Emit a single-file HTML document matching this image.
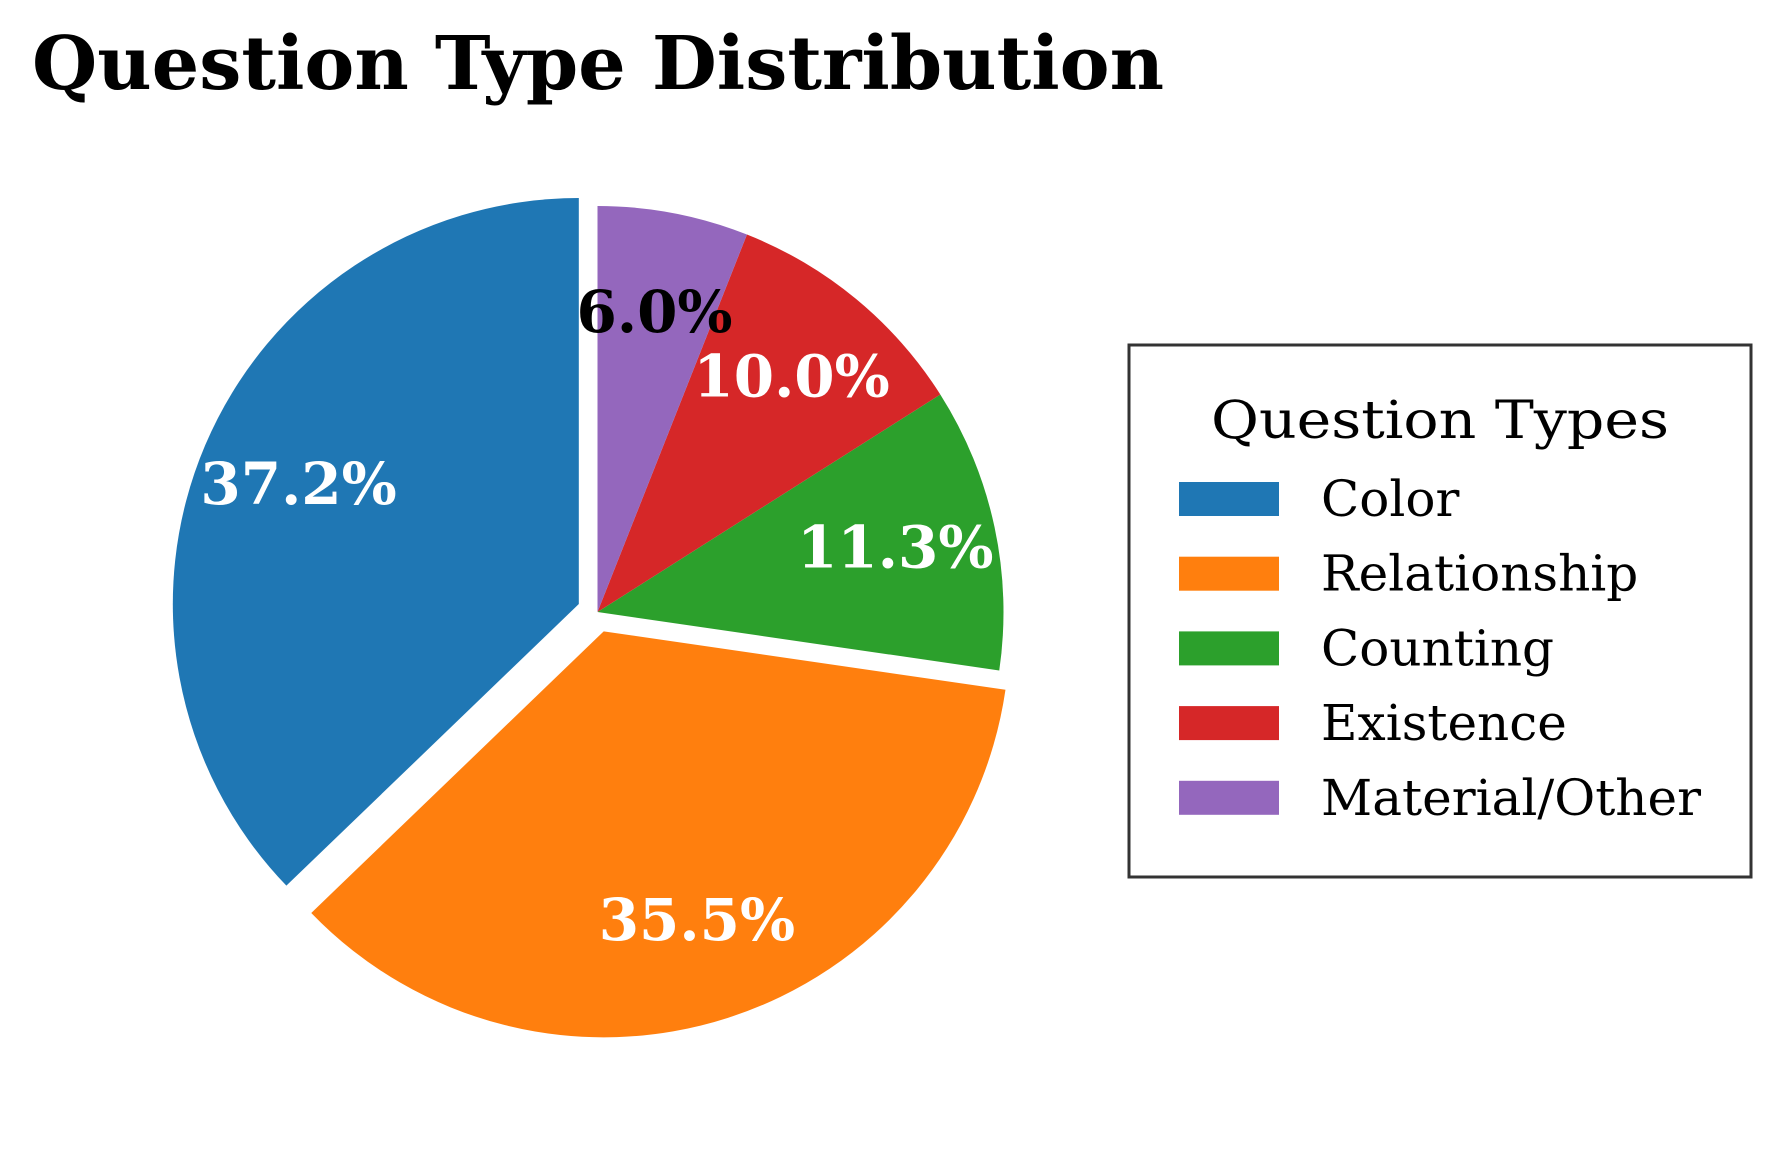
<!DOCTYPE html>
<html><head><meta charset="utf-8"><style>
html,body{margin:0;padding:0;background:#fff;}
svg{display:block;}
text{font-family:"DejaVu Serif","Liberation Serif",serif;}
</style></head><body>
<svg id="chart" width="1779" height="1149" viewBox="0 0 1779 1149" xmlns="http://www.w3.org/2000/svg">
<rect width="1779" height="1149" fill="#fff"/>
<text x="32" y="89" font-size="74" font-weight="bold" textLength="1132" lengthAdjust="spacingAndGlyphs">Question Type Distribution</text>
<g id="pie"></g>
<g id="legend" transform="translate(-7,-3)">
<rect x="1136" y="348" width="622" height="532" fill="#fff" stroke="#333" stroke-width="3"/>
<text x="1447" y="441" font-size="52" text-anchor="middle" textLength="458" lengthAdjust="spacingAndGlyphs">Question Types</text>
</g>
</svg>
<script>
const categories = ["Color","Relationship","Counting","Existence","Material/Other"];
const values = [37.2,35.5,11.3,10.0,6.0];
const colors = ["#1f77b4","#ff7f0e","#2ca02c","#d62728","#9467bd"];
const explode = [0.05,0.05,0,0,0];
const labelColors = ["#fff","#fff","#fff","#fff","#000"];
const NS="http://www.w3.org/2000/svg";
const cx=597.5, cy=612, R=406, pctDist=0.75;
const pie=document.getElementById('pie');
const total=values.reduce((a,b)=>a+b,0);
let start=90;
function pt(x0,y0,r,a){const t=a*Math.PI/180;return [x0+r*Math.cos(t), y0-r*Math.sin(t)];}
values.forEach((v,i)=>{
  const sweep=v/total*360, end=start+sweep, mid=start+sweep/2;
  const [ox,oy]=pt(cx,cy,explode[i]*R,mid);
  const [x1,y1]=pt(ox,oy,R,start), [x2,y2]=pt(ox,oy,R,end);
  const p=document.createElementNS(NS,'path');
  p.setAttribute('d',`M${ox},${oy} L${x1},${y1} A${R},${R} 0 ${sweep>180?1:0} 0 ${x2},${y2} Z`);
  p.setAttribute('fill',colors[i]);
  
  
  pie.appendChild(p);
  const [lx,ly]=pt(ox,oy,R*pctDist,mid);
  const t=document.createElementNS(NS,'text');
  t.setAttribute('x',lx);t.setAttribute('y',ly+19);
  t.setAttribute('text-anchor','middle');t.setAttribute('font-size','58');t.setAttribute('font-weight','bold');
  t.setAttribute('fill',labelColors[i]);
  t.textContent=v.toFixed(1)+'%';
  
  
  pie.appendChild(t);
  start=end;
});
const lg=document.getElementById('legend');
categories.forEach((c,i)=>{
  const y=485+i*74.7;
  const r=document.createElementNS(NS,'rect');
  r.setAttribute('x',1186);r.setAttribute('y',y);r.setAttribute('width',100);r.setAttribute('height',34);
  r.setAttribute('fill',colors[i]);
  
  
  lg.appendChild(r);
  const t=document.createElementNS(NS,'text');
  t.setAttribute('x',1328);t.setAttribute('y',y+34);t.setAttribute('font-size','50');
  t.textContent=c;
  
  
  lg.appendChild(t);
});
</script>
</body></html>
